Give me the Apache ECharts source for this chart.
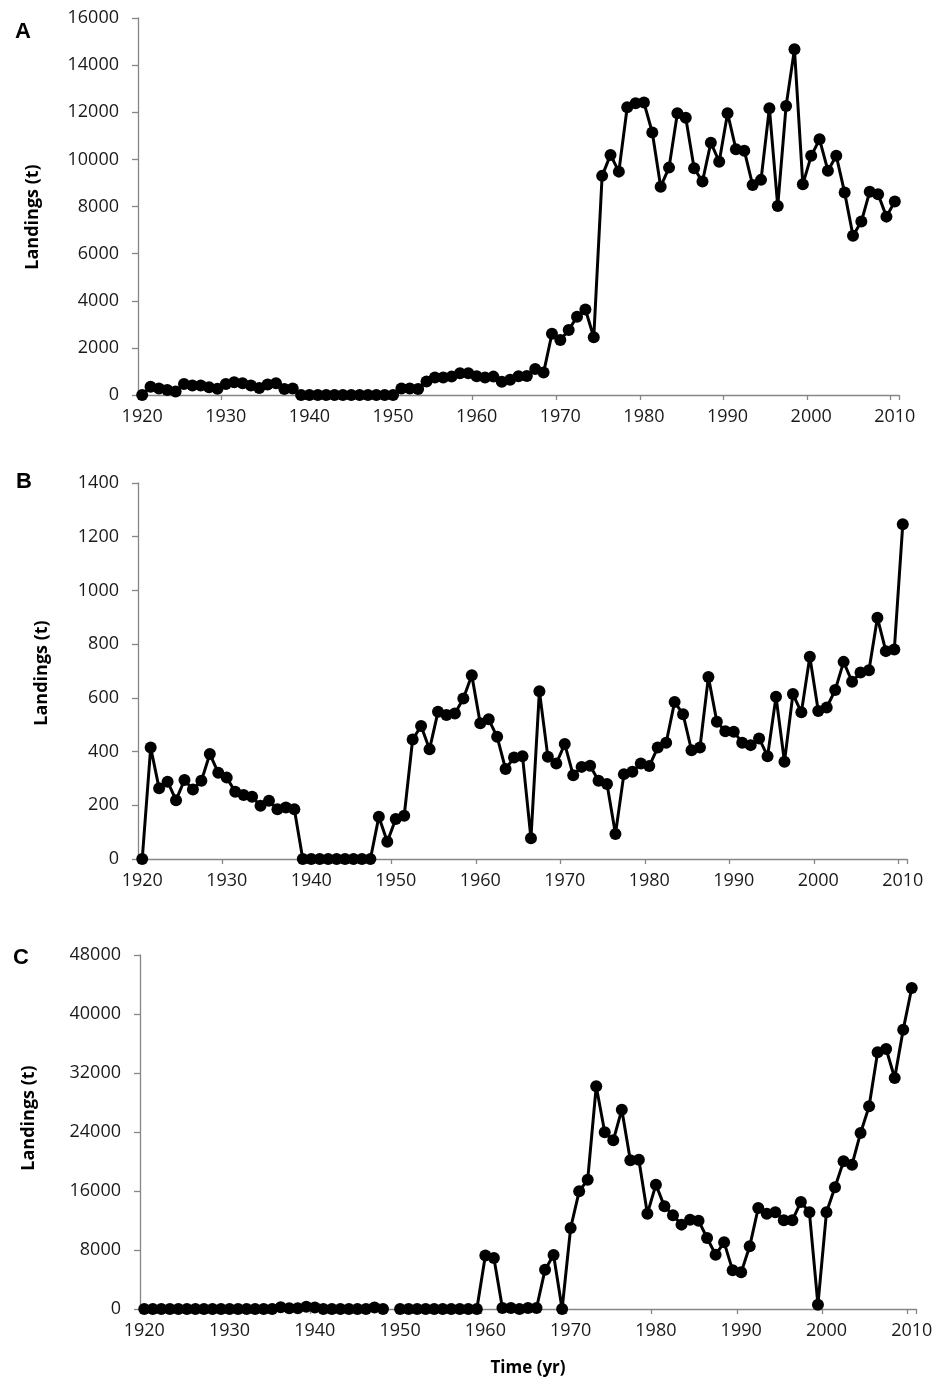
<!DOCTYPE html>
<html>
<head>
<meta charset="utf-8">
<script src="https://cdn.jsdelivr.net/npm/echarts@6/dist/echarts.min.js"></script>
<style>
  html, body { margin: 0; padding: 0; background: #fff; }
  #chart { width: 936px; height: 1380px; }
</style>
</head>
<body>
<div id="chart"></div>
<script>
var years = [
  '1920','1921','1922','1923','1924','1925','1926','1927','1928','1929',
  '1930','1931','1932','1933','1934','1935','1936','1937','1938','1939',
  '1940','1941','1942','1943','1944','1945','1946','1947','1948','1949',
  '1950','1951','1952','1953','1954','1955','1956','1957','1958','1959',
  '1960','1961','1962','1963','1964','1965','1966','1967','1968','1969',
  '1970','1971','1972','1973','1974','1975','1976','1977','1978','1979',
  '1980','1981','1982','1983','1984','1985','1986','1987','1988','1989',
  '1990','1991','1992','1993','1994','1995','1996','1997','1998','1999',
  '2000','2001','2002','2003','2004','2005','2006','2007','2008','2009',
  '2010'
];

// panel A landings (t)
var landingsA = [
  0, 350, 280, 210, 150, 470, 400, 400, 330, 260,
  470, 540, 500, 400, 300, 450, 500, 250, 280, 0,
  0, 0, 0, 0, 0, 0, 0, 0, 0, 0,
  0, 280, 280, 250, 570, 740, 740, 780, 920, 920,
  800, 740, 780, 560, 650, 800, 810, 1100, 950, 2600,
  2330, 2760, 3320, 3630, 2450, 9300, 10190, 9480, 12210, 12380,
  12410, 11140, 8840, 9650, 11960, 11770, 9620, 9060, 10710, 9900,
  11960, 10430, 10370, 8910, 9130, 12170, 8020, 12270, 14670, 8940,
  10150, 10850, 9520, 10150, 8590, 6760, 7360, 8630, 8520, 7570,
  8210
];

// panel B landings (t)
var landingsB = [
  0, 415, 263, 288, 219, 294, 259, 291, 391, 321,
  303, 250, 238, 232, 198, 217, 185, 192, 185, 0,
  0, 0, 0, 0, 0, 0, 0, 0, 157, 64,
  149, 161, 445, 495, 409, 548, 536, 542, 598, 684,
  505, 520, 455, 335, 378, 383, 77, 625, 381, 356,
  428, 312, 343, 347, 291, 279, 93, 316, 325, 356,
  346, 415, 433, 585, 539, 405, 415, 678, 511, 476,
  474, 433, 424, 449, 383, 604, 362, 614, 546, 753,
  551, 564, 629, 734, 660, 694, 703, 898, 774, 780,
  1246
];

// panel C landings (t), 1949 missing
var landingsC = [
  0, 0, 0, 0, 0, 0, 0, 0, 0, 0,
  0, 0, 0, 0, 0, 0, 250, 100, 100, 300,
  200, 0, 0, 0, 0, 0, 0, 200, 0, null,
  0, 0, 0, 0, 0, 0, 0, 0, 0, 0,
  7250, 6900, 130, 130, 0, 130, 130, 5330, 7320, 0,
  10980, 15960, 17540, 30190, 23960, 22870, 27030, 20160, 20250, 12930,
  16860, 13920, 12700, 11440, 12110, 11980, 9630, 7370, 9040, 5240,
  4970, 8500, 13700, 12930, 13110, 12020, 12020, 14510, 13110, 590,
  13110, 16500, 20020, 19570, 23870, 27480, 34800, 35260, 31320, 37880,
  43530
];

var panelLetters = ['A', 'B', 'C'];
var yMax = [16000, 1400, 48000];
var yStep = [2000, 200, 8000];

var axisGrey = '#868686';
var txt = '#1a1a1a';
var tickFont = 'Open Sans';

function xAxisFor(i) {
  return {
    type: 'category', gridIndex: i, data: years, boundaryGap: true,
    axisLine: { lineStyle: { color: axisGrey, width: 1.3 } },
    axisTick: { show: true, interval: 9, length: 5, lineStyle: { color: axisGrey, width: 1.3 } },
    axisLabel: { interval: 9, color: txt, fontSize: 18, fontFamily: tickFont, margin: 13 },
    splitLine: { show: false }
  };
}

function yAxisFor(i) {
  return {
    type: 'value', gridIndex: i, min: 0, max: yMax[i], interval: yStep[i],
    axisLine: { show: true, lineStyle: { color: axisGrey, width: 1.3 } },
    axisTick: { show: true, length: 6, lineStyle: { color: axisGrey, width: 1.3 } },
    axisLabel: {
      color: txt, fontSize: 18, fontFamily: tickFont, margin: 19,
      formatter: function (v) { return String(v); }
    },
    splitLine: { show: false }
  };
}

function seriesFor(i, values) {
  return {
    type: 'line', xAxisIndex: i, yAxisIndex: i, data: values,
    symbol: 'circle', symbolSize: 12, showAllSymbol: true, connectNulls: false,
    lineStyle: { color: '#000', width: 3 },
    itemStyle: { color: '#000' }
  };
}

function letter(t, x, y) {
  return {
    type: 'text', x: x, y: y,
    style: { text: t, fill: '#000', fontFamily: 'Liberation Sans', fontWeight: 'bold', fontSize: 22, textAlign: 'center', textVerticalAlign: 'middle' }
  };
}

function yTitle(x, y) {
  return {
    type: 'text', x: x, y: y, rotation: Math.PI / 2,
    style: { text: 'Landings (t)', fill: '#000', fontFamily: 'Open Sans', fontWeight: 'bold', fontSize: 18, textAlign: 'center', textVerticalAlign: 'middle' }
  };
}

var chart = echarts.init(document.getElementById('chart'), null, { renderer: 'canvas' });
chart.setOption({
  animation: false,
  backgroundColor: '#fff',
  grid: [
    { left: 138, top: 18, width: 761, height: 377 },
    { left: 138, top: 483, width: 769, height: 376 },
    { left: 140, top: 955, width: 776, height: 354 }
  ],
  xAxis: [xAxisFor(0), xAxisFor(1), xAxisFor(2)],
  yAxis: [yAxisFor(0), yAxisFor(1), yAxisFor(2)],
  series: [seriesFor(0, landingsA), seriesFor(1, landingsB), seriesFor(2, landingsC)],
  graphic: [
    letter(panelLetters[0], 23, 32),
    letter(panelLetters[1], 24, 482),
    letter(panelLetters[2], 21, 958),
    yTitle(33, 217),
    yTitle(42, 673),
    yTitle(29, 1118),
    {
      type: 'text', x: 528, y: 1368,
      style: { text: 'Time (yr)', fill: '#000', fontFamily: 'Open Sans', fontWeight: 'bold', fontSize: 17, textAlign: 'center', textVerticalAlign: 'middle' }
    }
  ]
});
</script>
</body>
</html>
